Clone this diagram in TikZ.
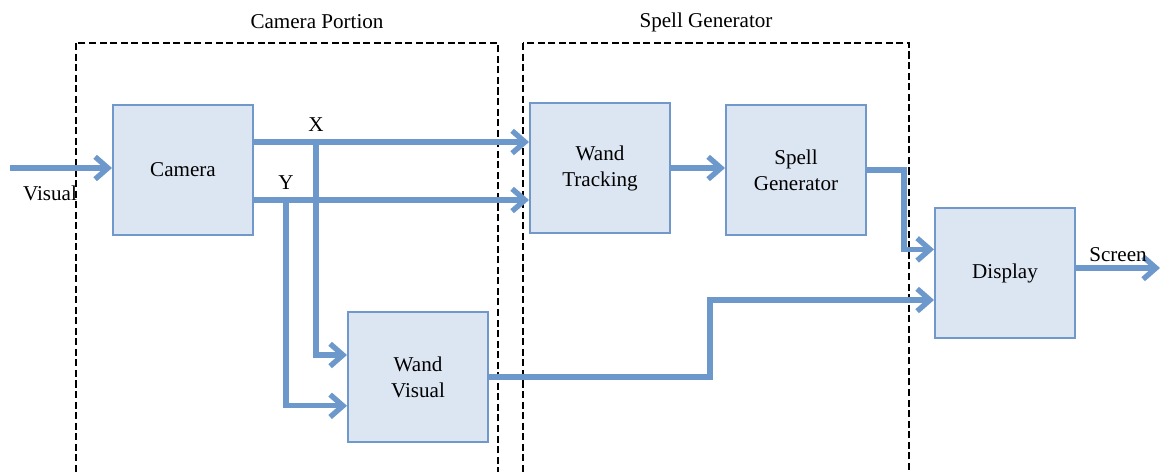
\documentclass[tikz,border=0pt]{standalone}
\usepackage{fontspec}
\setmainfont{Liberation Serif}
\usetikzlibrary{arrows.meta,positioning}
\definecolor{boxfill}{RGB}{220,230,242}
\definecolor{boxedge}{RGB}{112,152,202}
\definecolor{flowblue}{RGB}{108,152,204}

\begin{document}
\begin{tikzpicture}[x=0.025cm, y=-0.025cm,
    >={Straight Barb[length=3.2mm, width=5.6mm]},
    blk/.style={rectangle, draw=boxedge, fill=boxfill, line width=1.4pt, minimum width=3.5cm, minimum height=3.27cm, align=center, font=\fontsize{15}{18.5}\selectfont},
    flow/.style={draw=flowblue, line width=3.8pt, ->},
    grp/.style={draw, dash pattern=on 5pt off 2.5pt, line width=1.6pt},
    lbl/.style={font=\fontsize{15}{18}\selectfont}]
    \useasboundingbox (0,0) rectangle (1162,472);

    % group frames
    \draw[grp] (76,43) rectangle (498,480);
    \draw[grp] (523,43) rectangle (909,480);
    \node[lbl] (camhead) at (317,22) {Camera Portion};
    \node[lbl] (spellhead) at (706,22) {Spell Generator};

    % blocks
    \node[blk] (cam) at (183,170) {Camera};
    \node[blk] (trk) at (600,168) {Wand\\Tracking};
    \node[blk] (spl) at (796,170) {Spell\\Generator};
    \node[blk] (dsp) at (1005,273) {Display};
    \node[blk] (wvis) at (418,377) {Wand\\Visual};

    \coordinate (vin) at (10,168);
    \coordinate (xrow) at (316,142);
    \coordinate (yrow) at (286,200);
    \coordinate (bend) at (710,300);
    \coordinate (scr) at (1160,268);

    % connectors
    \draw[flow] (vin) -- (cam.west |- vin);
    \node[lbl] (vislbl) at (50,193) {Visual};
    \draw[flow] (cam.east |- xrow) -- (trk.west |- xrow);
    \draw[flow] (cam.east |- yrow) -- (trk.west |- yrow);
    \node[lbl] (xlbl) at (316,125) {X};
    \node[lbl] (ylbl) at (286,183) {Y};
    \draw[flow] (xrow) |- ([yshift=0.55cm]wvis.west);
    \draw[flow] (yrow) |- ([yshift=-0.72cm]wvis.west);
    \draw[flow] (trk.east) -- (spl.west |- trk.east);
    \draw[flow] (spl.east) -- ++(37,0) |- ([yshift=0.59cm]dsp.west);
    \draw[flow] (wvis.east) -| (bend) -- (dsp.west |- bend);
    \draw[flow] (dsp.east |- scr) -- (scr);
    \node[lbl] (scrlbl) at (1118,255) {Screen};
\end{tikzpicture}
\end{document}
